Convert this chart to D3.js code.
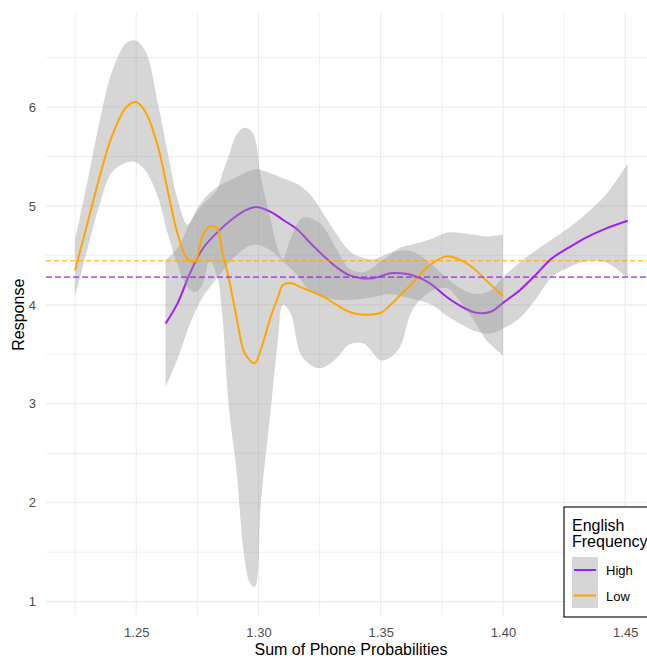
<!DOCTYPE html>
<html><head><meta charset="utf-8">
<script src="https://cdn.jsdelivr.net/npm/d3@7"></script>
<style>body{margin:0;background:#fff;overflow:hidden} svg{display:block;font-family:"Liberation Sans",Arial,sans-serif}</style>
</head><body><svg id="c" width="647" height="658"></svg>
<script>
// ---- data ----
const xTicks = [1.25, 1.30, 1.35, 1.40, 1.45];
const xTickLabels = ["1.25", "1.30", "1.35", "1.40", "1.45"];
const xMinor = [1.225, 1.275, 1.325, 1.375, 1.425];
const yTicks = [1, 2, 3, 4, 5, 6];
const yMinor = [1.5, 2.5, 3.5, 4.5, 5.5, 6.5];
const groups = ["High", "Low"];
const groupColors = ["#A020F0", "#FFA500"];
const groupMeans = [4.28, 4.445];

const lowX = [1.225,1.230,1.235,1.240,1.246,1.250,1.254,1.259,1.263,1.267,1.271,1.274,1.277,1.280,1.283,1.285,1.288,1.291,1.294,1.2965,1.2985,1.301,1.305,1.308,1.310,1.313,1.318,1.325,1.332,1.337,1.343,1.350,1.354,1.358,1.363,1.370,1.377,1.382,1.388,1.393,1.400];
const lowFit = [4.35,4.82,5.29,5.70,6.00,6.05,5.94,5.59,5.14,4.71,4.46,4.44,4.69,4.79,4.78,4.56,4.25,3.88,3.53,3.44,3.41,3.55,3.88,4.08,4.20,4.22,4.17,4.10,4.00,3.93,3.90,3.92,4.00,4.10,4.22,4.40,4.49,4.46,4.37,4.25,4.09];
const lowHi = [4.66,5.24,5.85,6.35,6.65,6.67,6.55,6.02,5.52,5.06,4.81,4.91,5.01,5.08,5.16,5.31,5.52,5.72,5.79,5.77,5.69,5.29,4.86,4.56,4.46,4.66,4.88,4.83,4.56,4.37,4.33,4.44,4.51,4.58,4.61,4.66,4.73,4.73,4.71,4.69,4.71];
const lowLo = [4.08,4.56,5.01,5.34,5.44,5.44,5.35,5.08,4.71,4.40,4.18,4.13,4.20,4.44,4.30,3.95,2.94,2.33,1.49,1.19,1.15,2.00,2.94,3.65,4.00,3.92,3.47,3.36,3.46,3.60,3.61,3.44,3.47,3.58,3.95,4.13,4.17,4.05,3.85,3.65,3.49];

const highX = [1.262,1.267,1.272,1.277,1.283,1.290,1.295,1.299,1.305,1.310,1.316,1.321,1.326,1.332,1.337,1.342,1.347,1.354,1.358,1.363,1.370,1.377,1.384,1.389,1.395,1.400,1.407,1.414,1.420,1.427,1.434,1.442,1.451];
const highFit = [3.81,4.02,4.32,4.56,4.73,4.88,4.96,4.99,4.94,4.86,4.76,4.63,4.51,4.38,4.30,4.27,4.27,4.32,4.32,4.30,4.22,4.08,3.97,3.92,3.93,4.02,4.15,4.32,4.47,4.58,4.68,4.77,4.85];
const highLo = [3.17,3.46,3.81,4.07,4.27,4.48,4.58,4.61,4.55,4.44,4.30,4.14,4.08,4.05,4.05,4.06,4.08,4.11,4.09,4.06,4.01,3.89,3.79,3.73,3.71,3.76,3.87,4.08,4.28,4.38,4.44,4.43,4.27];
const highHi = [4.45,4.58,4.83,5.05,5.19,5.28,5.34,5.37,5.33,5.28,5.22,5.12,4.94,4.71,4.55,4.48,4.46,4.53,4.55,4.54,4.43,4.27,4.15,4.11,4.15,4.28,4.43,4.56,4.66,4.78,4.92,5.11,5.43];

// ---- build ----
const svg = d3.select("#c");
const L = 46, R = 658, T = 13, B = 616.5;
const x = d3.scaleLinear().domain([1.2131, 1.4634]).range([L, R]);
const y = d3.scaleLinear().domain([0.85, 6.95]).range([B, T]);
const grid = "#ebebeb";

const g = svg.append("g");
g.selectAll(".xm").data(xMinor).join("line").attr("x1", d => x(d)).attr("x2", d => x(d)).attr("y1", T).attr("y2", B).attr("stroke", grid).attr("stroke-width", 0.8);
g.selectAll(".ym").data(yMinor).join("line").attr("x1", L).attr("x2", R).attr("y1", d => y(d)).attr("y2", d => y(d)).attr("stroke", grid).attr("stroke-width", 0.8);
g.selectAll(".xM").data(xTicks).join("line").attr("x1", d => x(d)).attr("x2", d => x(d)).attr("y1", T).attr("y2", B).attr("stroke", grid).attr("stroke-width", 1.1);
g.selectAll(".yM").data(yTicks).join("line").attr("x1", L).attr("x2", R).attr("y1", d => y(d)).attr("y2", d => y(d)).attr("stroke", grid).attr("stroke-width", 1.1);

const series = [
  {x: highX, fit: highFit, lo: highLo, hi: highHi, color: groupColors[0]},
  {x: lowX, fit: lowFit, lo: lowLo, hi: lowHi, color: groupColors[1]}
];
const area = d3.area().x(d => x(d.x)).y0(d => y(d.lo)).y1(d => y(d.hi)).curve(d3.curveCatmullRom);
const line = d3.line().x(d => x(d.x)).y(d => y(d.fit)).curve(d3.curveCatmullRom);
series.forEach(s => {
  const pts = s.x.map((v, i) => ({x: v, fit: s.fit[i], lo: s.lo[i], hi: s.hi[i]}));
  svg.append("path").attr("d", area(pts)).attr("fill", "#999999").attr("fill-opacity", 0.4);
  svg.append("path").attr("d", line(pts)).attr("fill", "none").attr("stroke", s.color).attr("stroke-width", 2);
});

// mean lines
svg.append("line").attr("x1", L).attr("x2", R).attr("y1", y(groupMeans[1])).attr("y2", y(groupMeans[1]))
  .attr("stroke", groupColors[1]).attr("stroke-width", 1).attr("stroke-dasharray", "5,3");
svg.append("line").attr("x1", L).attr("x2", R).attr("y1", y(groupMeans[0])).attr("y2", y(groupMeans[0]))
  .attr("stroke", groupColors[0]).attr("stroke-opacity", 0.7).attr("stroke-width", 1.6).attr("stroke-dasharray", "6,3");

// axes text
const xAxis = d3.axisBottom(x).tickValues(xTicks).tickFormat((d, i) => xTickLabels[i]).tickSize(0).tickPadding(0);
const xa = svg.append("g").attr("transform", `translate(0,${B})`).call(xAxis);
xa.select(".domain").remove();
xa.selectAll("text").attr("font-size", 13).attr("fill", "#4d4d4d").attr("dy", null).attr("y", 20.5)
  .attr("font-family", '"Liberation Sans",Arial,sans-serif');

const yAxis = d3.axisLeft(y).tickValues(yTicks).tickFormat(d3.format("d")).tickSize(0).tickPadding(0);
const ya = svg.append("g").attr("transform", `translate(36,0)`).call(yAxis);
ya.select(".domain").remove();
ya.selectAll("text").attr("font-size", 13).attr("fill", "#4d4d4d").attr("x", 0)
  .attr("font-family", '"Liberation Sans",Arial,sans-serif');

svg.append("text").attr("x", (L + R) / 2 - 1).attr("y", 655).attr("text-anchor", "middle").attr("font-size", 16).attr("fill", "#000").text("Sum of Phone Probabilities");
svg.append("text").attr("transform", `translate(24,${(T + B) / 2}) rotate(-90)`).attr("text-anchor", "middle").attr("font-size", 16).attr("fill", "#000").text("Response");

// legend
const lg = svg.append("g");
lg.append("rect").attr("x", 564).attr("y", 507).attr("width", 140).attr("height", 110).attr("fill", "#fff").attr("stroke", "#000").attr("stroke-width", 1.1);
lg.append("text").attr("x", 572).attr("y", 531).attr("font-size", 16).text("English");
lg.append("text").attr("x", 572).attr("y", 547).attr("font-size", 16).text("Frequency");
groups.forEach((gname, i) => {
  const ky = 557 + i * 25.5;
  lg.append("rect").attr("x", 572).attr("y", ky).attr("width", 26).attr("height", 25.5).attr("fill", "#999999").attr("fill-opacity", 0.4);
  lg.append("line").attr("x1", 574).attr("x2", 596).attr("y1", ky + 13).attr("y2", ky + 13).attr("stroke", groupColors[i]).attr("stroke-width", 2);
  lg.append("text").attr("x", 606).attr("y", ky + 18).attr("font-size", 13).attr("fill", "#000").text(gname);
});
</script></body></html>
